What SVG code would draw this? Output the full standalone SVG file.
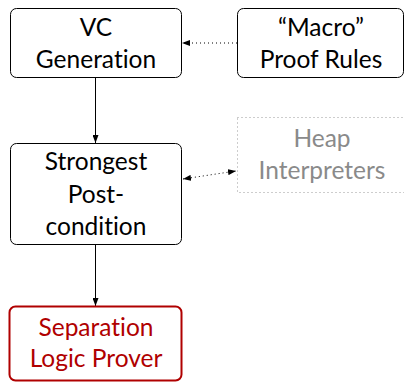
<svg xmlns="http://www.w3.org/2000/svg" width="404" height="382" viewBox="0 0 404 382">
<defs>
<style>
.box{fill:#fff;stroke:#000;stroke-width:1}
.t{font-family:Lato,"Liberation Sans",sans-serif;font-size:24.5px;text-anchor:middle;fill:#000;font-variant-ligatures:none}
.gray{fill:#8a8a8a}
.red{fill:#b00000}
.solid{stroke:#000;stroke-width:1;fill:none}
.dot{stroke:#000;stroke-width:1;fill:none;stroke-dasharray:1 3}
</style>
<marker id="ah" viewBox="0 0 8 6" refX="8" refY="3" markerWidth="8" markerHeight="6" markerUnits="userSpaceOnUse" orient="auto-start-reverse">
<path d="M0,0 L8,3 L0,6 Z" fill="#000"/>
</marker>
</defs>
<g id="connectors">
<line class="solid" x1="95.5" y1="77" x2="95.5" y2="143" marker-end="url(#ah)"/>
<line class="solid" x1="95.5" y1="244" x2="95.5" y2="306" marker-end="url(#ah)"/>
<line class="dot" x1="237" y1="43" x2="182" y2="43" marker-end="url(#ah)"/>
<line class="dot" x1="183" y1="179" x2="236" y2="171" marker-start="url(#ah)" marker-end="url(#ah)"/>
</g>
<g id="vc">
<rect class="box" x="10.5" y="8.5" width="171" height="69" rx="6"/>
<text class="t" x="96" y="36">VC</text>
<text class="t" x="96" y="68">Generation</text>
</g>
<g id="macro">
<rect class="box" x="237.5" y="8.5" width="166" height="69" rx="6"/>
<text class="t" x="321" y="36">“Macro”</text>
<text class="t" x="321" y="68">Proof Rules</text>
</g>
<g id="sp">
<rect class="box" x="10.5" y="143.5" width="171" height="101" rx="6"/>
<text class="t" x="96" y="170">Strongest</text>
<text class="t" x="96" y="203">Post-</text>
<text class="t" x="96" y="235">condition</text>
</g>
<g id="heap">
<rect x="237.5" y="117.5" width="170" height="75" fill="none" stroke="#9a9a9a" stroke-width="1" stroke-dasharray="1 3"/>
<text class="t gray" x="322" y="147">Heap</text>
<text class="t gray" x="322" y="179">Interpreters</text>
</g>
<g id="slp">
<rect x="9.5" y="306.5" width="172" height="74" rx="6" fill="#fff" stroke="#b00000" stroke-width="2"/>
<text class="t red" x="96" y="336">Separation</text>
<text class="t red" x="96" y="367">Logic Prover</text>
</g>
</svg>
